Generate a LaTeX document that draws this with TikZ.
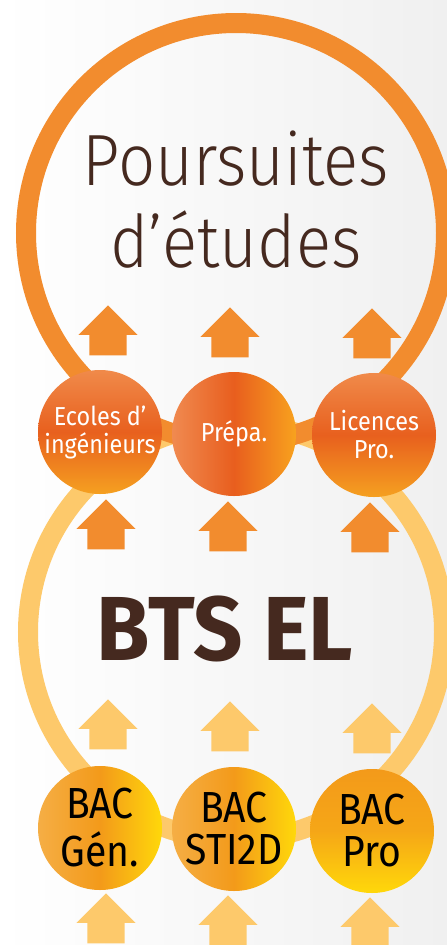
\documentclass[tikz,border=0pt]{standalone}
\usepackage{fontspec}
\setmainfont[FakeStretch=0.9]{Fira Sans}
\newfontfamily\btsfont[FakeStretch=0.95]{Fira Sans}
\newfontfamily\titlefont[FakeStretch=0.9]{Fira Sans Light}
\usetikzlibrary{shapes.arrows}
\definecolor{ringorange}{HTML}{F28C2E}
\definecolor{ringyellow}{HTML}{FDC96B}
\definecolor{titlebrown}{HTML}{45291F}
\definecolor{bggray}{HTML}{F0F0F0}
\definecolor{sortietop}{HTML}{F08A4A}
\definecolor{sortiemid}{HTML}{E8601E}
\definecolor{sortiebottom}{HTML}{F5A020}
\definecolor{prepaleft}{HTML}{F08A50}
\definecolor{prepamid}{HTML}{E85E1E}
\definecolor{preparight}{HTML}{F8A21E}
\definecolor{bacleft}{HTML}{F5AE45}
\definecolor{bacmid}{HTML}{F39A1A}
\definecolor{bacright}{HTML}{FFD80A}

\begin{document}
\begin{tikzpicture}[x=1pt,y=-1pt,
  every node/.style={inner sep=0pt},
  upto/.style={single arrow, shape border rotate=90, anchor=tip,
    minimum height=50pt, inner xsep=18.5pt, inner ysep=0pt,
    single arrow head extend=11pt, single arrow tip angle=90},
  sortie/.style={circle, minimum size=124pt, text=white, align=center,
    font=\fontsize{26}{28}\selectfont,
    top color=sortietop, bottom color=sortiebottom, middle color=sortiemid},
  bac/.style={circle, minimum size=124pt, text=black, align=center,
    left color=bacleft, right color=bacright, middle color=bacmid}]
\useasboundingbox (0,0) rectangle (447,945);
\clip (0,0) rectangle (447,945);
\fill[left color=white, right color=bggray] (0,0) rectangle (447,945);

% the two rings
\draw[ringyellow, line width=20pt] (236,632) circle[radius=208pt];
\draw[ringorange, line width=20pt] (236,233) circle[radius=210pt];

\node[titlebrown, align=center, anchor=base,
  font=\titlefont\fontsize{72.6}{82}\selectfont] (poursuites) at (236,267)
  {Poursuites\\d’études};
\node[titlebrown, anchor=base,
  font=\btsfont\bfseries\fontsize{91}{100}\selectfont] (bts) at (225,660)
  {BTS EL};

% upper row
\node[sortie] (ecoles) at (100,432) {Ecoles d’\\ingénieurs};
\node[sortie, left color=prepaleft, right color=preparight,
  middle color=prepamid] (prepa) at (234,434) {Prépa.};
\node[sortie] (licences) at (374,435) {Licences\\Pro.};

% lower row
\node[bac, font=\fontsize{43.5}{48}\selectfont] (bacgen) at (100,828) {BAC\\Gén.};
\node[bac, font=\fontsize{43.5}{42}\selectfont] (bacsti) at (234,829) {BAC\\STI2D};
\node[bac, font=\fontsize{43.5}{42}\selectfont, top color=bacmid,
  bottom color=bacright, middle color=bacmid!80!bacright] (bacpro) at (372,831) {BAC\\Pro};

% arrows
\node[upto, fill=ringorange] (ecolesup) at (108,305) {};
\node[upto, fill=ringorange] (prepaup) at (230,307) {};
\node[upto, fill=ringorange] (licencesup) at (372,308) {};
\node[upto, fill=ringorange] (btsleft) at (106,499) {};
\node[upto, fill=ringorange] (btsmid) at (228,501) {};
\node[upto, fill=ringorange] (btsright) at (370,502) {};
\node[upto, fill=ringyellow] (genup) at (108,699) {};
\node[upto, fill=ringyellow] (stiup) at (230,701) {};
\node[upto, fill=ringyellow] (proup) at (372,703) {};
\node[upto, fill=ringyellow] (genin) at (106,893) {};
\node[upto, fill=ringyellow] (stiin) at (228,895) {};
\node[upto, fill=ringyellow] (proin) at (370,897) {};
\end{tikzpicture}
\end{document}
